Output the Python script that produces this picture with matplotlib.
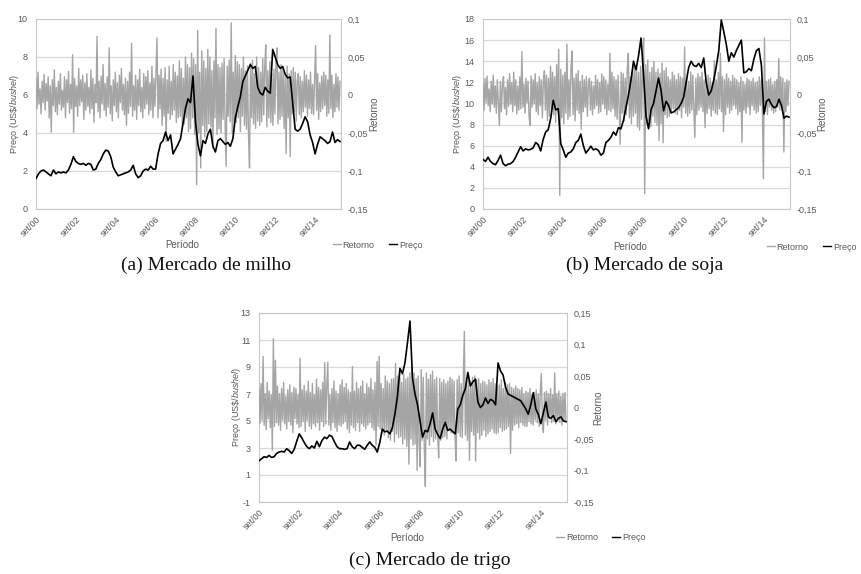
import numpy as np
import matplotlib.pyplot as plt
from matplotlib.ticker import FuncFormatter
from matplotlib.lines import Line2D

plt.rcParams['font.family'] = ['Liberation Sans', 'DejaVu Sans']
plt.rcParams['mathtext.fontset'] = 'custom'
plt.rcParams['mathtext.rm'] = 'Liberation Sans'
plt.rcParams['mathtext.it'] = 'Liberation Sans:italic'
plt.rcParams['axes.unicode_minus'] = False

# ---- data (price sampled every 1/8 year from set/00, returns in thousandths) ----
tick_years = [0, 2, 4, 6, 8, 10, 12, 14]
tick_labels = ['set/00', 'set/02', 'set/04', 'set/06', 'set/08', 'set/10', 'set/12', 'set/14']

milho_preco = [
    1.60, 1.85, 2.00, 2.05, 1.95, 1.85, 1.75, 2.05, 1.85, 1.95, 1.90, 1.95, 1.90, 2.05, 2.35, 2.75,
    2.50, 2.40, 2.35, 2.40, 2.30, 2.40, 2.35, 2.05, 2.10, 2.40, 2.60, 2.90, 3.10, 3.05, 2.75, 2.20,
    1.95, 1.75, 1.80, 1.85, 1.90, 1.95, 2.05, 2.30, 1.85, 1.65, 1.75, 2.00, 2.10, 2.05, 2.25, 2.10,
    2.10, 2.90, 3.45, 3.60, 4.05, 3.60, 3.90, 2.90, 3.15, 3.40, 3.70, 4.50, 5.30, 5.80, 5.60, 7.00,
    4.60, 3.40, 2.80, 3.60, 3.45, 3.95, 4.20, 3.30, 3.00, 3.60, 3.70, 3.55, 3.40, 3.50, 3.30, 3.70,
    4.80, 5.40, 5.90, 6.70, 7.00, 7.30, 7.60, 7.40, 7.50, 6.40, 6.10, 6.00, 6.40, 6.20, 6.10, 8.40,
    8.00, 7.60, 7.40, 7.50, 7.10, 6.90, 6.95, 5.60, 4.20, 4.10, 4.20, 4.50, 4.85, 4.60, 3.90, 3.50,
    2.90, 3.40, 3.80, 3.70, 3.60, 3.45, 3.55, 4.05, 3.50, 3.65, 3.55]
milho_retorno = [
    22, -18, 30, -12, 8, -25, 18, -10, 27, -20,
    15, -8, 24, -30, 12, -49, 20, -14, 33, -22,
    10, -26, 18, -12, 28, -20, 6, -16, 24, -30,
    20, -10, 31, -24, 14, -18, 53, -49, 22, -15,
    12, -28, 35, -14, 20, -9, 26, -32, 16, -20,
    28, -15, 10, -24, 33, -18, 22, -36, 14, -10,
    77, -22, 18, -30, 25, -12, 40, -20, 15, -28,
    24, -16, 62, -25, 12, -34, 20, -14, 30, -22,
    16, -30, 26, -10, 35, -20, 14, -26, 22, -40,
    18, -24, 30, -15, 68, -28, 12, -20, 26, -32,
    20, -14, 34, -22, 10, -30, 28, -18, 24, -12,
    32, -26, 16, -20, 38, -30, 22, -15, 28, 75,
    -30, 26, -18, 34, -40, 22, -28, 36, -61, 20,
    -24, 38, -32, 18, -26, 40, -20, 30, -36, 25,
    -30, 45, -28, 35, -42, 22, -38, 50, -30, 40,
    -48, 36, -44, 55, -30, 48, -52, 40, -118, 85,
    -50, 30, -96, 58, -40, 45, -55, 35, -48, 60,
    -38, 50, -42, 32, -70, 45, -30, 88, -52, 40,
    -45, 36, -50, 42, -32, 48, -40, -94, 38, -28,
    46, -35, 95, -50, 30, -42, 52, -36, 44, -30,
    40, -48, 35, -28, 50, -40, 32, -45, 38, -52,
    -96, 42, -30, 46, -38, 28, -44, 50, -34, 36,
    -40, 30, -35, 48, -26, 38, 66, -42, 32, -30,
    44, -36, 28, -40, 34, -25, 45, 62, -38, 30,
    -32, 40, -28, 35, -44, 26, -77, 38, -30, 28,
    -81, 32, -25, 36, -22, 30, -34, 20, 28, -26,
    24, -30, 18, -22, 32, -16, 26, -28, 20, -18,
    30, -24, 14, -26, 22, 65, -20, 28, -32, 16,
    -22, 25, -18, 30, -14, 26, -28, 20, -24, 79,
    -18, 26, -30, 14, -22, 28, -16, 24, -20, 18]

soja_preco = [
    4.70, 4.50, 4.90, 4.50, 4.30, 4.20, 4.60, 5.10, 4.30, 4.10, 4.25, 4.30, 4.50, 4.90, 5.40, 5.90,
    5.50, 5.70, 5.60, 5.65, 5.80, 6.30, 6.10, 5.50, 6.60, 7.30, 7.50, 8.60, 10.30, 9.40, 9.50, 6.20,
    5.60, 4.90, 5.30, 5.40, 5.70, 6.30, 6.50, 7.10, 6.00, 5.30, 5.60, 5.95, 5.60, 5.70, 5.55, 5.10,
    5.30, 6.30, 6.50, 6.80, 7.30, 7.00, 7.70, 7.60, 8.40, 9.60, 10.80, 12.20, 14.00, 13.20, 14.50, 16.20,
    12.80, 8.80, 7.60, 9.40, 10.00, 11.20, 12.40, 11.20, 9.30, 10.20, 9.80, 9.10, 9.20, 9.40, 9.60, 10.00,
    10.60, 12.00, 13.40, 14.00, 13.60, 13.50, 13.80, 13.40, 14.30, 12.00, 10.80, 11.20, 12.20, 13.50, 15.00, 17.90,
    16.80, 15.60, 14.00, 14.80, 14.40, 15.00, 15.50, 16.00, 12.90, 13.00, 13.30, 13.10, 14.20, 15.00, 15.20, 13.60,
    9.00, 10.20, 10.40, 9.90, 9.60, 9.70, 10.40, 9.80, 8.60, 8.80, 8.70]
soja_retorno = [
    15, -20, 22, -10, 25, -14, 8, -22, 18, -12,
    26, -16, 12, -24, 20, -9, -40, 18, -22, 14,
    24, -18, 10, -26, 20, -15, 28, -12, 16, -22,
    30, -14, 20, -25, 12, -20, 24, -18, 57, -16,
    14, -24, 22, -10, 18, -28, -40, 25, -16, 20,
    -12, 28, -22, 16, -26, 24, -14, 20, -30, 18,
    32, -20, 26, -34, 22, -28, 38, -18, 30, -26,
    24, -36, 40, -22, 60, -132, 34, -30, 26, -38,
    30, -24, 67, -32, 20, -28, 36, 58, -26, 22,
    -34, 28, -20, 32, -24, 18, -45, 26, -22, 20,
    -16, 24, -28, 14, 22, -20, 18, -26, 12, -18,
    26, -14, 20, -24, 16, -22, 28, -12, 24, -18,
    20, -26, 14, -20, 55, -22, 30, -18, 24, -28,
    20, -32, 26, -16, -65, 30, -24, 28, -34, 22,
    -26, 36, 55, -30, 24, -38, 32, -28, 40, -24,
    36, -42, 30, -46, 38, -32, 44, 75, -130, 40,
    -38, 46, -34, 30, -42, 36, -28, 44, -36, 30,
    -40, 34, -60, 28, -38, 42, -63, 32, -26, 36,
    -30, 24, -28, 20, -22, 30, -18, 26, -24, 20,
    -26, 28, -20, 24, -30, 22, -16, 63, -24, 20,
    -28, 18, -24, 30, -20, 26, -18, -56, 22, -26,
    28, -20, 24, -16, 30, -22, 20, -43, 18, -24,
    26, -18, 22, -28, 16, -20, 45, -24, 20, -26,
    30, -18, 55, -22, 24, -48, 20, -26, 28, -16,
    22, -24, 18, -20, 26, -14, 22, -18, 20, -26,
    16, -22, 24, -62, 18, -20, 14, -24, 22, -16,
    20, -26, 18, -14, 22, -20, 16, -24, 18, -22,
    24, -14, 20, -18, -110, 75, -22, 18, -26, 20,
    -16, 22, -20, 14, -24, 18, -22, 20, -16, 48,
    -20, 24, -18, 22, -75, 16, -22, 20, -14, 18]

trigo_preco = [
    2.05, 2.20, 2.35, 2.30, 2.45, 2.30, 2.35, 2.60, 2.70, 2.75, 2.70, 2.95, 2.80, 2.60, 2.90, 3.50,
    4.05, 3.75, 3.40, 3.10, 2.95, 3.15, 3.00, 3.50, 3.10, 3.55, 3.80, 3.70, 3.95, 3.85, 3.45, 3.10,
    2.95, 2.95, 2.90, 2.95, 3.45, 3.10, 2.95, 3.20, 3.20, 3.05, 2.90, 3.20, 3.45, 3.20, 3.05, 2.70,
    3.40, 4.40, 4.20, 4.25, 4.05, 4.50, 5.50, 6.80, 8.90, 8.50, 9.30, 10.80, 12.40, 8.20, 7.00, 6.20,
    5.00, 3.80, 4.30, 4.20, 4.80, 5.60, 4.40, 4.00, 3.70, 4.40, 4.90, 4.30, 4.40, 4.20, 4.05, 5.90,
    6.20, 6.90, 7.40, 8.60, 7.60, 7.90, 8.10, 6.40, 6.00, 6.20, 6.70, 6.30, 6.60, 6.50, 6.20, 9.30,
    8.70, 8.40, 7.50, 7.00, 6.90, 6.80, 6.70, 6.60, 6.50, 6.20, 5.90, 5.50, 6.20, 7.10, 5.90, 5.50,
    4.80, 5.60, 6.40, 5.30, 5.20, 5.40, 4.95, 5.20, 5.30, 5.00, 4.95]
trigo_retorno = [
    30, -25, 38, -20, 81, -28, 22, -35, 40, -18,
    26, -32, 20, -68, 109, -30, 75, -24, 34, -28,
    22, -36, 30, -20, 40, -26, 18, -34, 28, -22,
    36, -28, 24, -40, 32, -18, 30, -26, 20, -32,
    78, -30, 28, -22, 35, -38, 26, -20, 42, -30,
    24, -34, 38, -26, 20, -30, 45, -24, 32, -36,
    28, -22, 40, -30, 71, -26, 34, 72, -28, 20,
    -36, 30, -24, 42, -32, 26, -38, 22, -28, 36,
    -30, 44, -26, 32, -22, 38, -34, 28, -40, 24,
    -28, 65, -32, 26, -36, 40, -24, 30, -38, 34,
    -26, 42, -30, 22, -34, 38, -28, 32, -24, 46,
    -32, 28, -36, 40, -60, 73, -30, 81, -34, 38,
    -40, 30, -44, 50, -36, 42, -48, 38, -52, 45,
    -38, 46, -55, 70, -42, 50, -48, 55, -46, 40,
    -58, 52, -50, 45, -62, 48, -90, 55, -50, 65,
    -60, 54, -58, 46, -100, 50, -56, -94, 60, -52,
    48, -64, -125, 55, -50, 45, -60, 52, -46, 58,
    -54, 44, -50, 48, -42, -80, 46, -52, 40, -48,
    44, -46, 38, -50, 42, -36, 48, -40, 45, -38,
    42, -50, -85, 44, -40, 50, -46, 38, -48, 42,
    121, -44, 40, -52, 46, -84, 42, -38, 48, -44,
    50, -85, 44, -40, 46, -50, 38, -44, 42, -36,
    40, -46, 36, -42, 44, -38, 40, -34, 46, -40,
    38, -42, 34, -40, 36, -32, 44, -38, 30, -36,
    40, -34, 36, -30, 38, -73, 32, -36, 30, -28,
    34, -26, 30, -32, 28, -24, 32, -28, 22, -30,
    26, -30, 24, -22, 30, -26, 20, -28, 24, -20,
    28, -24, 22, -30, 26, 54, -22, -40, 24, -20,
    26, -28, 22, -18, 30, -24, 20, -22, 55, -26,
    22, -20, 26, -24, 18, -28, 22, -20, 24, -22]

TXT = '#595959'
GRID = '#d9d9d9'
RET_COLOR = '#a5a5a5'
W, H = 861, 574


def virgula(v, pos):
    s = '%g' % round(v, 4)
    if s == '-0':
        s = '0'
    return s.replace('.', ',')


def rect(x0, y0, x1, y1):
    # pixel box (top-left origin) -> figure fraction
    return [x0 / W, 1 - y1 / H, (x1 - x0) / W, (y1 - y0) / H]


def painel(fig, box, preco, retorno, pticks, rticks, leg_x, ylab_l, ylab_r, xlab_y):
    ax = fig.add_axes(rect(*box))
    t_p = np.arange(len(preco)) / 8.0
    t_r = np.linspace(0, t_p[-1], len(retorno))

    ax.set_xlim(0, 15.3)
    ax.set_ylim(pticks[0], pticks[-1])
    ax.set_yticks(pticks)
    ax.set_xticks(tick_years)
    ax.set_xticklabels(tick_labels, rotation=45, ha='right', rotation_mode='anchor')
    ax.grid(axis='y', color=GRID, lw=0.9)
    ax.set_axisbelow(True)
    ax.tick_params(length=0, labelsize=6.5, colors=TXT)
    ax.tick_params(axis='y', pad=6)
    ax.tick_params(axis='x', pad=4)
    for s in ax.spines.values():
        s.set_color('#c8c8c8')
        s.set_linewidth(0.8)

    ax2 = ax.twinx()
    ax2.plot(t_r, np.array(retorno) / 1000.0, color=RET_COLOR, lw=1.0)
    ax2.set_ylim(rticks[0], rticks[-1])
    ax2.set_yticks(rticks)
    ax2.yaxis.set_major_formatter(FuncFormatter(virgula))
    ax2.tick_params(length=0, labelsize=6.5, colors=TXT, pad=5)
    for s in ax2.spines.values():
        s.set_visible(False)

    ax3 = fig.add_axes(rect(*box), sharex=ax, sharey=ax)
    ax3.plot(t_p, preco, color='black', lw=1.2)
    ax3.axis('off')

    ax.text(ylab_l, 0.5, r'Preço (US\$/$\mathit{bushel}$)', rotation=90, ha='center', va='center',
            fontsize=6.5, color=TXT, transform=ax.transAxes)
    ax.text(ylab_r, 0.5, 'Retorno', rotation=90, ha='center', va='center',
            fontsize=7, color=TXT, transform=ax.transAxes)
    ax.text(0.48, xlab_y, 'Período', ha='center', va='center', fontsize=7, color=TXT,
            transform=ax.transAxes)
    handles = [Line2D([], [], color=RET_COLOR, lw=1.0), Line2D([], [], color='black', lw=1.0)]
    leg = ax.legend(handles, ['Retorno', 'Preço'], ncol=2, frameon=False, fontsize=6.5,
                    loc='center', bbox_to_anchor=(leg_x, xlab_y), handlelength=0.9,
                    handletextpad=0.2, columnspacing=1.6)
    for txt in leg.get_texts():
        txt.set_color(TXT)
    return ax


fig = plt.figure(figsize=(W / 100, H / 100), dpi=100)

painel(fig, (36, 19, 341, 209), milho_preco, milho_retorno,
       [0, 2, 4, 6, 8, 10], [-0.15, -0.1, -0.05, 0, 0.05, 0.1],
       1.12, -0.072, 1.11, -0.19)
painel(fig, (483, 19, 790, 209), soja_preco, soja_retorno,
       [0, 2, 4, 6, 8, 10, 12, 14, 16, 18], [-0.15, -0.1, -0.05, 0, 0.05, 0.1],
       1.07, -0.082, 1.105, -0.2)
painel(fig, (259, 313, 567, 502), trigo_preco, trigo_retorno,
       [-1, 1, 3, 5, 7, 9, 11, 13], [-0.15, -0.1, -0.05, 0, 0.05, 0.1, 0.15],
       1.11, -0.074, 1.10, -0.19)

cap = dict(ha='center', va='center', fontsize=14, family='Liberation Serif', color='#111111')
fig.text(206 / W, 1 - 265 / H, '(a) Mercado de milho', **cap)
fig.text(645 / W, 1 - 265 / H, '(b) Mercado de soja', **cap)
fig.text(430 / W, 1 - 560 / H, '(c) Mercado de trigo', **cap)

fig.savefig('out.png', dpi=100)
